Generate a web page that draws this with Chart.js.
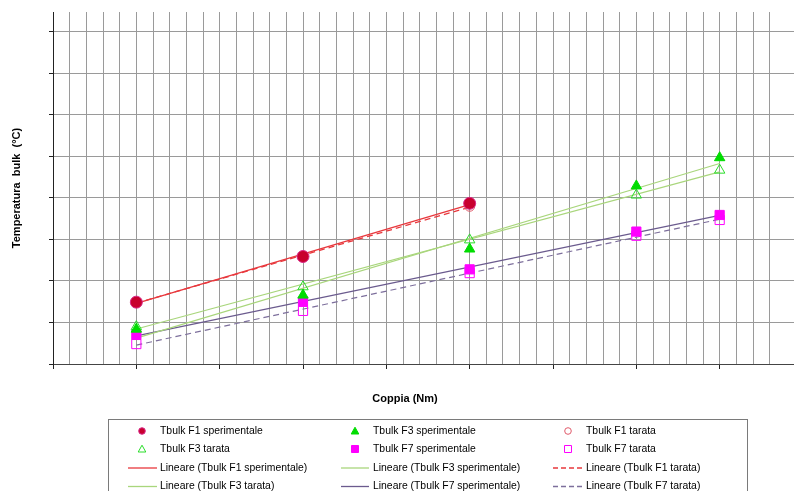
<!DOCTYPE html>
<html>
<head>
<meta charset="utf-8">
<script src="https://cdn.jsdelivr.net/npm/chart.js@4/dist/chart.umd.min.js"></script>
<style>
  html, body { margin: 0; padding: 0; background: #fff; }
  #wrap { width: 794px; height: 491px; position: relative; }
</style>
</head>
<body>
<div id="wrap"><canvas id="c" width="794" height="491"></canvas></div>
<script>
// Torque values (Nm) at which the bulk temperature was recorded
const coppia = [10, 30, 50, 70, 80];

// Bulk temperature readings (°C)
const f1Sperimentale = [14.9, 25.9, 38.7];
const f1Tarata       = [14.9, 25.8, 38.0];
const f3Sperimentale = [8.4, 16.6, 27.7, 42.9, 49.7];
const f3Tarata       = [9.0, 18.6, 29.9, 40.7, 46.7];
const f7Sperimentale = [7.0, 15.0, 22.8, 31.9, 35.9];
const f7Tarata       = [4.8, 12.8, 21.9, 30.9, 34.7];

const seriesLabels = [
  'Tbulk F1 sperimentale', 'Tbulk F3 sperimentale', 'Tbulk F1 tarata',
  'Tbulk F3 tarata', 'Tbulk F7 sperimentale', 'Tbulk F7 tarata'
];

const toPoints = (ys) => ys.map((y, i) => ({ x: coppia[i], y }));

// Least-squares straight line over the range of the measured torques
function linearTrend(ys) {
  const xs = coppia.slice(0, ys.length);
  const n = ys.length;
  const mx = xs.reduce((a, b) => a + b, 0) / n;
  const my = ys.reduce((a, b) => a + b, 0) / n;
  let sxy = 0, sxx = 0;
  for (let i = 0; i < n; i++) { sxy += (xs[i] - mx) * (ys[i] - my); sxx += (xs[i] - mx) ** 2; }
  const b = sxy / sxx, a = my - b * mx;
  return [{ x: xs[0], y: a + b * xs[0] }, { x: xs[n - 1], y: a + b * xs[n - 1] }];
}

const RED = '#e8383d', GREEN = '#a9d67c', PURPLE = '#6b5b8e', PURPLE_D = '#7d6f9c';

function markers(label, data, style, fill, stroke, radius) {
  return {
    label, data: toPoints(data), showLine: false, order: 0,
    pointStyle: style, pointRadius: radius, pointHoverRadius: radius,
    backgroundColor: fill, pointBackgroundColor: fill,
    borderColor: stroke, pointBorderColor: stroke, pointBorderWidth: 1
  };
}
function trend(label, data, color, dash, width) {
  return {
    label: 'Lineare (' + label + ')', data: linearTrend(data), showLine: true, order: 1,
    pointRadius: 0, borderColor: color, backgroundColor: color,
    borderWidth: width, borderDash: dash, fill: false
  };
}

const datasets = [
  markers(seriesLabels[0], f1Sperimentale, 'circle', '#c8002e', '#d82a8a', 6),
  markers(seriesLabels[1], f3Sperimentale, 'triangle', '#00dc00', '#00dc00', 6),
  markers(seriesLabels[2], f1Tarata, 'circle', 'rgba(0,0,0,0)', '#e05a6a', 5),
  markers(seriesLabels[3], f3Tarata, 'triangle', 'rgba(0,0,0,0)', '#2add2a', 6),
  markers(seriesLabels[4], f7Sperimentale, 'rect', '#ff00ff', '#ff00ff', 6.5),
  markers(seriesLabels[5], f7Tarata, 'rect', 'rgba(0,0,0,0)', '#ff00ff', 6.5),
  trend(seriesLabels[0], f1Sperimentale, RED, [], 1.5),
  trend(seriesLabels[1], f3Sperimentale, GREEN, [], 1.2),
  trend(seriesLabels[2], f1Tarata, RED, [6, 4], 1.3),
  trend(seriesLabels[3], f3Tarata, GREEN, [], 1.2),
  trend(seriesLabels[4], f7Sperimentale, PURPLE, [], 1.2),
  trend(seriesLabels[5], f7Tarata, PURPLE_D, [6, 4], 1.2)
];

const GRID = '#9a9a9a';
const onStep = (v, step) => Math.abs(v / step - Math.round(v / step)) < 1e-6;

// Axis titles and the boxed three-column legend
const decorations = {
  id: 'decorations',
  afterDraw(chart) {
    const ctx = chart.ctx;
    const area = chart.chartArea;
    ctx.save();
    ctx.fillStyle = '#000';
    ctx.font = 'bold 11px "Liberation Sans", Arial, sans-serif';
    ctx.textAlign = 'center';
    ctx.textBaseline = 'middle';
    ctx.fillText('Coppia (Nm)', 405, 399);
    ctx.save();
    ctx.translate(17, (area.top + area.bottom) / 2);
    ctx.rotate(-Math.PI / 2);
    ctx.fillText('Temperatura  bulk  (°C)', 0, 0);
    ctx.restore();

    // legend frame
    ctx.strokeStyle = '#7a7a7a';
    ctx.lineWidth = 1;
    ctx.strokeRect(108.5, 419.5, 639, 90);

    const markerX = [142, 355, 568];
    const lineX = [[128, 157], [341, 369], [553, 582]];
    const textX = [160, 373, 586];
    const rowY = [431, 449, 467.5, 486];
    ctx.font = '10.4px "Liberation Sans", Arial, sans-serif';
    ctx.textAlign = 'left';
    chart.data.datasets.forEach((ds, i) => {
      const col = i % 3, row = Math.floor(i / 3);
      const y = rowY[row];
      if (ds.showLine) {
        ctx.save();
        ctx.strokeStyle = ds.borderColor;
        ctx.lineWidth = 1.3;
        ctx.setLineDash(ds.borderDash && ds.borderDash.length ? [5, 3] : []);
        ctx.beginPath();
        ctx.moveTo(lineX[col][0], y + 0.5);
        ctx.lineTo(lineX[col][1], y + 0.5);
        ctx.stroke();
        ctx.restore();
      } else {
        const x = markerX[col];
        ctx.save();
        ctx.fillStyle = ds.backgroundColor;
        ctx.strokeStyle = ds.borderColor;
        ctx.lineWidth = 1;
        ctx.beginPath();
        if (ds.pointStyle === 'circle') {
          ctx.arc(x, y, 3.3, 0, Math.PI * 2);
        } else if (ds.pointStyle === 'triangle') {
          ctx.moveTo(x, y - 3.8);
          ctx.lineTo(x + 3.8, y + 3);
          ctx.lineTo(x - 3.8, y + 3);
          ctx.closePath();
        } else {
          ctx.rect(x - 3.5, y - 3.5, 7, 7);
        }
        ctx.fill();
        ctx.stroke();
        ctx.restore();
      }
      ctx.fillStyle = '#000';
      ctx.fillText(ds.label, textX[col], y + 0.5);
    });
    ctx.restore();
  }
};

new Chart(document.getElementById('c'), {
  type: 'scatter',
  data: { datasets },
  options: {
    responsive: false,
    devicePixelRatio: 1,
    animation: false,
    layout: { autoPadding: false, padding: { top: 12, left: 0, right: 0, bottom: 0 } },
    plugins: { legend: { display: false }, tooltip: { enabled: false } },
    scales: {
      x: {
        type: 'linear', min: 0, max: 88.92,
        ticks: { display: false, stepSize: 2 },
        grid: {
          color: GRID, lineWidth: 1, tickLength: 5,
          tickColor: (c) => (c.tick && onStep(c.tick.value, 10)) ? '#222' : 'rgba(0,0,0,0)'
        },
        border: { color: '#444', width: 1 },
        afterFit: (s) => { s.height = 127; }
      },
      y: {
        type: 'linear', min: 0, max: 84.8,
        ticks: { display: false, stepSize: 10 },
        grid: {
          lineWidth: 1, tickLength: 4,
          color: (c) => (c.tick && onStep(c.tick.value, 10)) ? GRID : 'rgba(0,0,0,0)',
          tickColor: (c) => (c.tick && onStep(c.tick.value, 10)) ? '#222' : 'rgba(0,0,0,0)'
        },
        border: { color: '#222', width: 1 },
        afterFit: (s) => { s.width = 53; }
      }
    }
  },
  plugins: [decorations]
});
</script>
</body>
</html>
